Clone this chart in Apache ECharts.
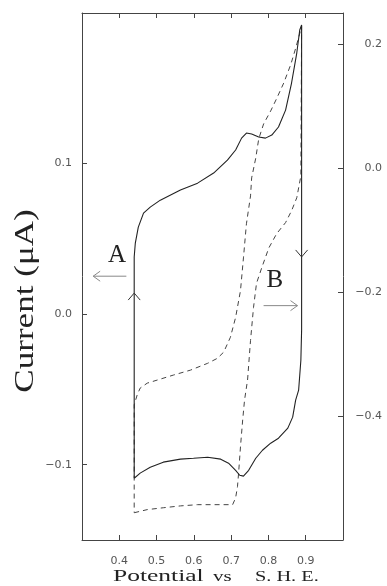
<!DOCTYPE html>
<html><head><meta charset="utf-8">
<script src="https://cdn.jsdelivr.net/npm/echarts@6/dist/echarts.min.js"></script>
<style>html,body{margin:0;padding:0;background:#fff}#c{width:387px;height:586px}</style>
</head><body><div id="c"></div>
<script>
// Curve A (solid, left axis): potential (V vs S.H.E.) and current (uA)
const potentialA = [0.440,0.440,0.443,0.451,0.465,0.483,0.510,0.564,0.610,0.653,0.690,0.712,0.728,0.741,0.755,0.774,0.792,0.809,0.827,0.846,0.862,0.876,0.884,0.889,
  0.889,0.887,0.881,0.873,0.865,0.852,0.827,0.806,0.784,0.766,0.747,0.733,0.723,0.712,0.693,0.672,0.637,0.599,0.564,0.518,0.483,0.456,0.440];
const currentA = [-0.109,0.0379,0.0472,0.0578,0.0671,0.0711,0.0757,0.0824,0.0870,0.0937,0.1023,0.1090,0.1169,0.1203,0.1196,0.1176,0.1169,0.1189,0.1243,0.1355,0.1535,0.1734,0.1887,0.1920,
  -0.0106,-0.0306,-0.0505,-0.0571,-0.0684,-0.0757,-0.0824,-0.0857,-0.0904,-0.0957,-0.1037,-0.1076,-0.1070,-0.1037,-0.0990,-0.0963,-0.0950,-0.0957,-0.0963,-0.0983,-0.1017,-0.1056,-0.109];
// Curve B (dashed, right axis)
const potentialB = [0.440,0.475,0.518,0.564,0.610,0.653,0.704,0.712,0.717,0.720,0.725,0.731,0.736,0.744,0.752,0.760,0.768,0.782,0.801,0.822,0.846,0.862,0.876,0.887,0.889,
  0.873,0.860,0.841,0.822,0.806,0.787,0.774,0.766,0.755,0.752,0.741,0.733,0.725,0.712,0.698,0.680,0.663,0.637,0.591,0.545,0.502,0.475,0.456,0.448,0.440,0.440];
const currentB = [-0.556,-0.551,-0.548,-0.545,-0.543,-0.543,-0.543,-0.532,-0.514,-0.492,-0.450,-0.406,-0.374,-0.342,-0.278,-0.225,-0.186,-0.161,-0.129,-0.106,-0.088,-0.069,-0.048,-0.013,0.228,
  0.193,0.167,0.137,0.112,0.092,0.071,0.047,0.016,-0.016,-0.045,-0.090,-0.145,-0.198,-0.241,-0.273,-0.297,-0.307,-0.315,-0.326,-0.334,-0.342,-0.347,-0.355,-0.366,-0.382,-0.556];
const xTicks = [0.4,0.5,0.6,0.7,0.8,0.9];
const leftTicks = [-0.1,0.0,0.1];
const rightTicks = [-0.4,-0.2,0.0,0.2];
const xTitle = ['Potential','vs','S. H. E.'];
const yTitle = 'Current (\u03bcA)';

const fmt = v => { const s = Math.abs(v).toFixed(1); return v < -1e-9 ? '\u2212' + s : s; };
const chart = echarts.init(document.getElementById('c'), null, {renderer:'canvas'});
const axisColor = '#444';
const lab = {fontFamily:'DejaVu Sans', fontSize:11, color:'#555'};
const lineS = {show:true, onZero:false, lineStyle:{color:axisColor, width:1}};
const tick = vals => ({show:true, inside:true, length:5, customValues:vals, lineStyle:{color:axisColor}});

chart.setOption({
  animation:false,
  grid:{left:82, right:44, top:13, bottom:46},
  xAxis:[
    {type:'value', position:'bottom', min:0.3, max:1.0, axisLine:lineS, axisTick:tick(xTicks),
     axisLabel:Object.assign({customValues:xTicks, formatter:fmt, margin:16}, lab), splitLine:{show:false}},
    {type:'value', position:'top', min:0.3, max:1.0, axisLine:lineS, axisTick:tick(xTicks),
     axisLabel:{show:false}, splitLine:{show:false}}
  ],
  yAxis:[
    {type:'value', position:'left', min:-0.15, max:0.2, axisLine:lineS, axisTick:tick(leftTicks),
     axisLabel:Object.assign({customValues:leftTicks, formatter:fmt, margin:10}, lab), splitLine:{show:false}},
    {type:'value', position:'right', min:-0.6, max:0.25, axisLine:lineS, axisTick:tick(rightTicks),
     axisLabel:Object.assign({customValues:rightTicks, formatter:fmt, align:'right', margin:39}, lab), splitLine:{show:false}}
  ],
  series:[
    {type:'line', xAxisIndex:0, yAxisIndex:0, data:potentialA.map((x,i)=>[x,currentA[i]]),
     showSymbol:false, symbol:'none', lineStyle:{color:'#222', width:1.1}, z:3},
    {type:'line', xAxisIndex:0, yAxisIndex:1, data:potentialB.map((x,i)=>[x,currentB[i]]),
     showSymbol:false, symbol:'none', lineStyle:{color:'#444', width:1, type:[5,4]}, z:2}
  ]
});

const P = (x,y,yi) => chart.convertToPixel({xAxisIndex:0, yAxisIndex:yi||0}, [x,y]);
const g = [];
function poly(pts, color, w){ g.push({type:'polyline', shape:{points:pts}, style:{stroke:color, lineWidth:w||1, fill:null}, z:10}); }
function hArrow(a, b, color){ // a -> b horizontal, head at b
  poly([a,b], color);
  const d = b[0] < a[0] ? 1 : -1;
  poly([[b[0]+7*d, b[1]-5],[b[0],b[1]],[b[0]+7*d,b[1]+5]], color);
}
function vHead(t, dir, color){ // dir=1 pointing up
  poly([[t[0]-6, t[1]+7*dir],[t[0],t[1]],[t[0]+6,t[1]+7*dir]], color);
}
hArrow(P(0.419,0.0252), P(0.330,0.0252), '#888');
hArrow(P(0.787,-0.222,1), P(0.878,-0.222,1), '#888');
vHead(P(0.440,0.014), 1, '#333');
vHead(P(0.889,0.038), -1, '#333');
const serif = 'Liberation Serif';
function txt(p, s, fs, extra){
  g.push(Object.assign({type:'text', x:p[0], y:p[1], z:10,
    style:{text:s, fontFamily:serif, fontSize:fs, fill:'#222', align:'center', verticalAlign:'middle'}}, extra||{}));
}
txt(P(0.394,0.0392), 'A', 25);
txt(P(0.817,-0.1815,1), 'B', 25);
// axis titles
g.push({type:'text', x:113, y:577, scaleX:1.5, z:10, style:{text:xTitle[0], fontFamily:serif, fontSize:17, fill:'#222', align:'left', verticalAlign:'middle'}});
g.push({type:'text', x:213, y:577.5, scaleX:1.5, z:10, style:{text:xTitle[1], fontFamily:serif, fontSize:14, fill:'#222', align:'left', verticalAlign:'middle'}});
g.push({type:'text', x:255, y:577.5, scaleX:1.45, z:10, style:{text:xTitle[2], fontFamily:serif, fontSize:14, fill:'#222', align:'left', verticalAlign:'middle'}});
g.push({type:'text', x:26, y:301, rotation:Math.PI/2, scaleX:1.3, z:10, style:{text:yTitle, fontFamily:serif, fontSize:27, fill:'#222', align:'center', verticalAlign:'middle'}});
chart.setOption({graphic:g});
</script></body></html>
